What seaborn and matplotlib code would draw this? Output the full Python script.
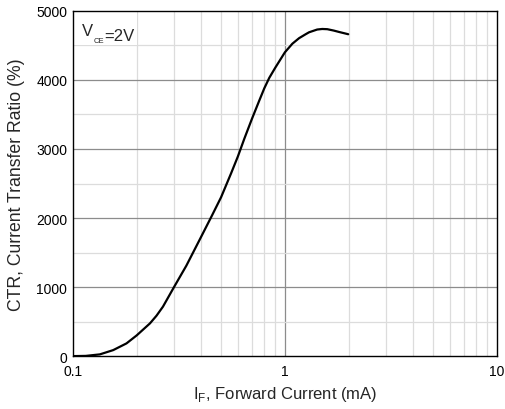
import matplotlib
matplotlib.use("Agg")
import matplotlib.pyplot as plt
import seaborn as sns
import pandas as pd
from matplotlib.patches import Rectangle
from matplotlib.ticker import FixedLocator, NullFormatter

current_mA = [0.100, 0.115, 0.134, 0.155, 0.179, 0.200, 0.231, 0.248, 0.266, 0.300,
              0.343, 0.400, 0.452, 0.500, 0.558, 0.600, 0.644, 0.700, 0.757, 0.800,
              0.844, 0.900, 1.000, 1.085, 1.167, 1.250, 1.300, 1.420, 1.500, 1.585,
              1.700, 1.800, 1.990]
ctr_pct = [0, 3, 25, 87, 184, 300, 474, 585, 716, 1000,
           1310, 1710, 2030, 2300, 2650, 2890, 3150, 3440, 3700, 3880,
           4030, 4175, 4400, 4525, 4605, 4660, 4690, 4730, 4738, 4735,
           4715, 4695, 4662]
x_ticks = [0.1, 1, 10]
x_tick_labels = ["0.1", "1", "10"]
y_ticks = [0, 1000, 2000, 3000, 4000, 5000]

sns.set_theme(style="white")
plt.rcParams['font.family'] = ['Liberation Sans', 'DejaVu Sans']
plt.rcParams['mathtext.fontset'] = 'custom'
plt.rcParams['mathtext.rm'] = 'Liberation Sans'

df = pd.DataFrame({"I": current_mA, "CTR": ctr_pct})

fig = plt.figure(figsize=(5.06, 4.10), dpi=100)
ax = fig.add_axes([0.144, 0.129, 0.838, 0.842])
ax.set_xscale("log")
ax.set_xlim(0.1, 10)
ax.set_ylim(0, 5000)

# grid
minor_x = [m * d for d in (0.1, 1) for m in range(2, 10)]
for xv in minor_x:
    ax.axvline(xv, color="#dcdcdc", lw=0.9, zorder=0)
ax.axvline(1, color="#8c8c8c", lw=0.9, zorder=0)
for yv in [500, 1500, 2500, 3500, 4500]:
    ax.axhline(yv, color="#dcdcdc", lw=0.9, zorder=0)
for yv in [1000, 2000, 3000, 4000]:
    ax.axhline(yv, color="#8c8c8c", lw=0.9, zorder=0)

# white label box covering the grid in the top-left cell
ax.add_patch(Rectangle((0.1, 4500), 0.1, 500, facecolor="white", edgecolor="none", zorder=1))

sns.lineplot(data=df, x="I", y="CTR", ax=ax, color="black", lw=1.6, zorder=3)

ax.xaxis.set_major_locator(FixedLocator(x_ticks))
ax.set_xticklabels(x_tick_labels)
ax.xaxis.set_minor_formatter(NullFormatter())
ax.set_yticks(y_ticks)
ax.tick_params(axis="both", which="both", length=0, labelsize=10, colors="black", pad=4)
ax.tick_params(axis="x", pad=6)

for s in ax.spines.values():
    s.set_color("black")
    s.set_linewidth(1.0)
    s.set_zorder(4)

ax.set_xlabel(r"I$_\mathregular{F}$, Forward Current (mA)", fontsize=12, labelpad=4)
ax.set_ylabel("CTR, Current Transfer Ratio (%)", fontsize=12.7, labelpad=8)

t1 = ax.text(0.110, 4650, "V", fontsize=12, va="baseline", ha="left", zorder=5)
t2 = ax.annotate("CE", xy=(1, 0), xycoords=t1, xytext=(0.5, -3), textcoords="offset points",
                 fontsize=5.5, va="baseline", ha="left", zorder=5)
ax.annotate("=2V", xy=(1, 0), xycoords=t2, xytext=(0, 3), textcoords="offset points",
            fontsize=12, va="baseline", ha="left", zorder=5)

fig.savefig("out.png", dpi=100)
